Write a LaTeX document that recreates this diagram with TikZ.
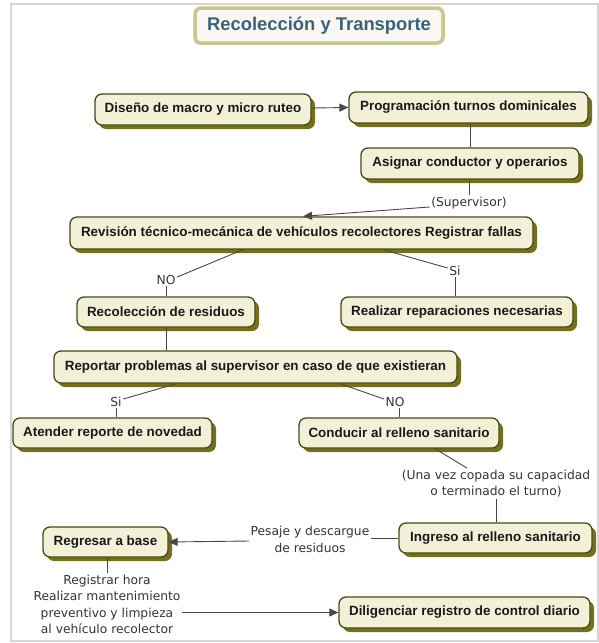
\documentclass[tikz,border=0pt]{standalone}
\usepackage{fontspec}
\setmainfont{Liberation Sans}
\newfontfamily\lblfont{DejaVu Sans}
\usetikzlibrary{arrows.meta,shadows}
\definecolor{nfill}{RGB}{242,241,216}
\definecolor{nborder}{RGB}{72,72,28}
\definecolor{nshadow}{RGB}{118,112,24}
\definecolor{tborder}{RGB}{200,200,140}
\definecolor{tfill}{RGB}{248,247,241}
\definecolor{ttext}{RGB}{58,98,122}
\definecolor{framegray}{RGB}{214,214,214}
\begin{document}
\begin{tikzpicture}[x=1pt,y=-1pt,
 box/.style={draw=nborder, line width=1.3pt, fill=nfill, rounded corners=7pt,
   font=\fontsize{13.4}{16}\selectfont\bfseries, text=black!90, inner sep=0pt, align=center,
   drop shadow={shadow xshift=4pt, shadow yshift=-4pt, fill=nshadow, opacity=1}},
 lbl/.style={font=\lblfont\fontsize{12.3}{16.5}\selectfont, text=black!80, inner sep=1.5pt, align=center},
 conn/.style={draw=black!72, line width=0.9pt},
 arr/.style={conn, -{Triangle[length=9pt,width=8pt]}}]
\useasboundingbox (0,0) rectangle (599,643);
\draw[framegray, line width=2pt] (11,4) rectangle (598,641);

\node[draw=tborder, line width=3.5pt, fill=tfill, rounded corners=6pt,
  minimum width=248pt, minimum height=35pt, inner sep=0pt,
  font=\fontsize{18.4}{22}\selectfont\bfseries, text=ttext,
  drop shadow={shadow xshift=-1.2pt, shadow yshift=-1.5pt, fill=tborder!85!black, opacity=1}]
  (title) at (319,25.5) {Recolección y Transporte};

\node[box, minimum width=216pt, minimum height=31pt] (n1) at (203,109.5) {Diseño de macro y micro ruteo};
\node[box, minimum width=239pt, minimum height=31pt] (n2) at (468.5,107.5) {Programación turnos dominicales};
\node[box, minimum width=218pt, minimum height=31pt] (n3) at (470,163.5) {Asignar conductor y operarios};
\node[box, minimum width=463pt, minimum height=32pt] (n4) at (301.5,233) {Revisión técnico-mecánica de vehículos recolectores Registrar fallas};
\node[box, minimum width=178pt, minimum height=30pt] (n5) at (166,312) {Recolección de residuos};
\node[box, minimum width=232pt, minimum height=30pt] (n6) at (457,312) {Realizar reparaciones necesarias};
\node[box, minimum width=403pt, minimum height=32pt] (n7) at (255.5,367) {Reportar problemas al supervisor en caso de que existieran};
\node[box, minimum width=199pt, minimum height=30pt] (n8) at (112.5,433) {Atender reporte de novedad};
\node[box, minimum width=200pt, minimum height=30pt] (n9) at (399,433) {Conducir al relleno sanitario};
\node[box, minimum width=193pt, minimum height=30pt] (n10) at (495.5,538) {Ingreso al relleno sanitario};
\node[box, minimum width=125pt, minimum height=30pt] (n12) at (105.5,542) {Regresar a base};
\node[box, minimum width=251pt, minimum height=31pt] (n11) at (464.5,612.5) {Diligenciar registro de control diario};

\node[lbl] (sup) at (469,203) {(Supervisor)};
\node[lbl] (no1) at (166,280) {NO};
\node[lbl] (si1) at (455,271) {Si};
\node[lbl] (si2) at (116,402) {Si};
\node[lbl] (no2) at (395,402) {NO};
\node[lbl] (una) at (496,483.5) {(Una vez copada su capacidad\\o terminado el turno)};
\node[lbl] (pes) at (310,539.5) {Pesaje y descargue\\de residuos};
\node[lbl] (reg) at (107,604.5) {Registrar hora\\Realizar mantenimiento\\preventivo y limpieza\\al vehículo recolector};

\draw[arr] ([yshift=1.5pt]n1.east) -- (n2.west);
\draw[conn] (n3.north |- n2.south) -- (n3.north);
\draw[conn] (sup.north |- n3.south) -- (sup.north);
\draw[arr] ([yshift=-4pt]sup.west) -- ([xshift=1.5pt]n4.north);
\draw[conn] ([xshift=-58.5pt]n4.south) -- ([yshift=3pt]no1.east);
\draw[conn] (no1.south) -- (no1.south |- n5.north);
\draw[conn] ([xshift=81.5pt]n4.south) -- ([yshift=3pt]si1.west);
\draw[conn] (si1.south) -- (si1.south |- n6.north);
\draw[conn] (n5.south) -- (n5.south |- n7.north);
\draw[conn] ([xshift=-79pt]n7.south) -- ([yshift=3pt]si2.east);
\draw[conn] (si2.south) -- (si2.south |- n8.north);
\draw[conn] ([xshift=84.5pt]n7.south) -- ([yshift=3pt]no2.west);
\draw[conn] (no2.south -| n9.north) -- (n9.north);
\draw[conn] ([xshift=36pt]n9.south) -- ([xshift=-29pt]una.north);
\draw[conn] (una.south) -- (una.south |- n10.north);
\draw[conn] (n10.west) -- (n10.west -| pes.east);
\draw[arr] ([yshift=-1.5pt]pes.west) -- (n12.east);
\draw[conn] (reg.north |- n12.south) -- (reg.north);
\draw[arr] ([yshift=-8pt]reg.east) -- (n11.west);
\end{tikzpicture}
\end{document}
